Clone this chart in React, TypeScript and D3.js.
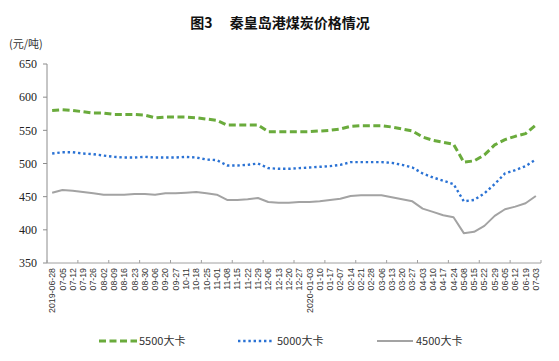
import React from "react";
import * as d3 from "d3";

const dates = [
  "2019-06-28","07-05","07-12","07-19","07-26","08-02","08-09","08-16","08-23","08-30",
  "09-06","09-20","09-27","10-11","10-18","10-25","11-01","11-08","11-15","11-22",
  "11-29","12-06","12-13","12-20","12-27","2020-01-03","01-10","01-17","02-07","02-14",
  "02-21","02-28","03-06","03-13","03-20","03-27","04-03","04-10","04-17","04-24",
  "05-08","05-15","05-22","05-29","06-05","06-12","06-19","07-03",
];

const s5500 = [
  580,581,580,578,576,576,574,574,574,573,
  569,570,570,570,569,567,565,558,558,558,
  558,548,548,548,548,548,549,550,552,556,
  557,557,557,555,552,549,540,535,532,529,
  502,504,513,528,536,541,545,558,
];
const s5000 = [
  515,517,517,515,514,512,510,509,509,510,
  509,509,509,510,509,506,505,497,497,498,
  500,493,492,492,493,494,495,496,498,502,
  502,502,502,501,498,494,485,479,474,469,
  443,445,455,469,485,490,496,506,
];
const s4500 = [
  456,460,459,457,455,453,453,453,454,454,
  453,455,455,456,457,455,453,445,445,446,
  448,442,441,441,442,442,443,445,447,451,
  452,452,452,449,446,443,432,427,422,419,
  395,397,406,421,431,435,440,451,
];

const yTicks = [350, 400, 450, 500, 550, 600, 650];
const seriesNames = ["5500大卡", "5000大卡", "4500大卡"];

export default function App() {
  const W = 559, H = 361;
  const x = d3.scaleBand<string>().domain(dates).range([47, 541]).padding(0);
  const y = d3.scaleLinear().domain([350, 650]).range([263, 64]);
  const cx = (i: number) => (x(dates[i]) as number) + x.bandwidth() / 2;
  const line = d3.line<number>().x((_, i) => cx(i)).y((d) => y(d));

  const styles = [
    { color: "#6aab3c", width: 3, dash: "7 3.5" },
    { color: "#2a72d4", width: 2.4, dash: "2.4 2.8" },
    { color: "#a3a3a3", width: 2, dash: "" },
  ];
  const data = [s5500, s5000, s4500];
  const bw = x.bandwidth();
  const tickIdx = d3.range(0, dates.length + 1, 3);

  return (
    <svg width={W} height={H} style={{ position: "absolute", left: 0, top: 0, background: "#fff" }}>
      <text x={280} y={28} textAnchor="middle" fontSize={14} fontWeight="bold"
        fontFamily="'Noto Sans CJK SC', sans-serif" fill="#111">
        图3　 秦皇岛港煤炭价格情况
      </text>
      <text x={9} y={48} fontSize={11} fontFamily="'Noto Sans CJK SC', sans-serif" fill="#333">(元/吨)</text>

      {/* y axis */}
      <line x1={47} x2={47} y1={y(650)} y2={y(350)} stroke="#8c8c8c" strokeWidth={1} />
      {yTicks.map((t) => (
        <g key={t}>
          <line x1={43} x2={47} y1={y(t)} y2={y(t)} stroke="#8c8c8c" />
          <text x={37} y={y(t)} dy="0.35em" textAnchor="end" fontSize={12}
            fontFamily="'Liberation Serif', serif" fill="#222">{t}</text>
        </g>
      ))}

      {/* x axis */}
      <line x1={47} x2={541} y1={y(350)} y2={y(350)} stroke="#a0a0a0" strokeWidth={1} />
      {tickIdx.map((k) => (
        <line key={k} x1={47 + k * bw} x2={47 + k * bw} y1={y(350) - 3} y2={y(350)} stroke="#a0a0a0" />
      ))}
      {dates.map((d, i) => (
        <text key={d} transform={`translate(${cx(i)},268) rotate(-90)`} textAnchor="end" dy="0.35em"
          fontSize={8.8} fontFamily="'Liberation Sans', sans-serif" fill="#333">{d}</text>
      ))}

      {/* series */}
      {data.map((s, k) => (
        <path key={k} d={line(s) || ""} fill="none" stroke={styles[k].color}
          strokeWidth={styles[k].width} strokeDasharray={styles[k].dash || undefined}
          strokeLinejoin="round" />
      ))}

      {/* legend */}
      {[
        { x1: 99, x2: 137, tx: 139 },
        { x1: 238, x2: 272, tx: 277 },
        { x1: 377, x2: 413, tx: 416 },
      ].map((l, k) => (
        <g key={k}>
          <line x1={l.x1} x2={l.x2} y1={341} y2={341} stroke={styles[k].color}
            strokeWidth={styles[k].width} strokeDasharray={styles[k].dash || undefined} />
          <text x={l.tx} y={341} dy="0.35em" fontSize={11}
            fontFamily="'Noto Sans CJK SC', sans-serif" fill="#333">{seriesNames[k]}</text>
        </g>
      ))}
    </svg>
  );
}
